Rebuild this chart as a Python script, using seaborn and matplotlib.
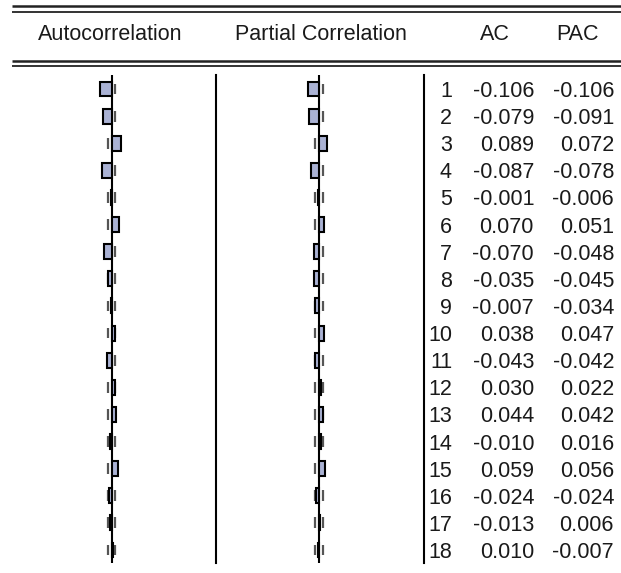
import matplotlib
matplotlib.use("Agg")
import matplotlib.pyplot as plt
import seaborn as sns
import pandas as pd

# ---- data ----
lags = list(range(1, 19))
ac = [-0.106, -0.079, 0.089, -0.087, -0.001, 0.070, -0.070, -0.035, -0.007,
      0.038, -0.043, 0.030, 0.044, -0.010, 0.059, -0.024, -0.013, 0.010]
pac = [-0.106, -0.091, 0.072, -0.078, -0.006, 0.051, -0.048, -0.045, -0.034,
       0.047, -0.042, 0.022, 0.042, 0.016, 0.056, -0.024, 0.006, -0.007]
headers = ["Autocorrelation", "Partial Correlation", "AC", "PAC"]
bound = 0.035

df = pd.DataFrame({"lag": [str(l) for l in lags], "ac": ac, "pac": pac})

sns.set_style("white")
plt.rcParams["font.family"] = ["Liberation Sans", "DejaVu Sans"]

W, H = 621, 573
fig = plt.figure(figsize=(W / 100, H / 100), dpi=100)
fig.patch.set_facecolor("white")


def px_axes(x0, y0, x1, y1, **kw):
    return fig.add_axes([x0 / W, 1 - y1 / H, (x1 - x0) / W, (y1 - y0) / H], **kw)


# background overlay for rules & headers
bg = px_axes(0, 0, W, H)
bg.set_xlim(0, W)
bg.set_ylim(H, 0)
bg.axis("off")
bg.set_zorder(0)
bg.plot([12, W], [6, 6], color="#222222", lw=1.8, solid_capstyle="butt")
bg.plot([12, W], [12, 12], color="#333333", lw=1.4, solid_capstyle="butt")
bg.plot([12, W], [61, 61], color="#222222", lw=1.8, solid_capstyle="butt")
bg.plot([12, W], [66, 66], color="#333333", lw=1.4, solid_capstyle="butt")
txtkw = dict(fontsize=15.5, color="#1a1a1a", va="center", ha="center")
bg.text(110, 35, headers[0], **txtkw)
bg.text(321, 35, headers[1], **txtkw)
bg.text(495, 35, headers[2], **txtkw)
bg.text(578, 35, headers[3], **txtkw)

YLIM = (17.48, -0.516)
barcolor = "#AAB2D4"


def corr_panel(ax, col):
    sns.barplot(data=df, x=col, y="lag", order=[str(l) for l in lags], orient="h",
                color=barcolor, saturation=1, edgecolor="black", linewidth=1.5,
                width=0.55, ax=ax, zorder=3)
    for i in range(len(lags)):
        ax.vlines([-bound, bound], i - 0.2, i + 0.2, color="#555555", lw=1.6, zorder=1)
    ax.axvline(0, color="black", lw=1.5, zorder=2)
    ax.set_xlim(-1, 1)
    ax.set_ylim(*YLIM)
    ax.set_xlabel("")
    ax.set_ylabel("")
    ax.set_xticks([])
    ax.set_yticks([])
    for s in ("left", "top", "bottom"):
        ax.spines[s].set_visible(False)
    ax.spines["right"].set_visible(True)
    ax.spines["right"].set_color("black")
    ax.spines["right"].set_linewidth(1.5)
    ax.patch.set_alpha(0)


ax_ac = px_axes(7, 75, 216, 563)
corr_panel(ax_ac, "ac")
ax_pac = px_axes(214, 75, 424, 563)
corr_panel(ax_pac, "pac")

# numeric table
tab = px_axes(424, 75, W, 563)
tab.set_xlim(424, W)
tab.set_ylim(*YLIM)
tab.axis("off")
numkw = dict(fontsize=15.5, color="#1a1a1a", va="center_baseline", ha="right")
for i, (l, a, p) in enumerate(zip(lags, ac, pac)):
    tab.text(452, i, f"{l}", **numkw)
    tab.text(534, i, f"{a:.3f}", **numkw)
    tab.text(614, i, f"{p:.3f}", **numkw)

fig.savefig("out.png", dpi=100, facecolor="white")
